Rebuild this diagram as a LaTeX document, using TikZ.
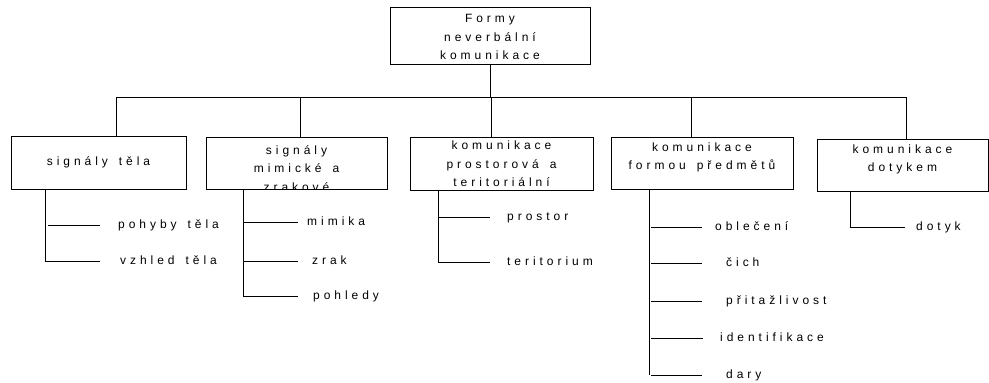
\documentclass[tikz,border=0pt]{standalone}
\usepackage{fontspec}
\setmainfont{Liberation Sans}[LetterSpace=33,WordSpace=1.5]
\newcommand\mg{\hspace{4pt}}
\usetikzlibrary{calc}
\begin{document}
\begin{tikzpicture}[x=1pt,y=-1pt,
  every node/.style={font=\fontsize{12}{18.5}\selectfont},
  box/.style={draw,line width=0.8pt,inner sep=0pt},
  txt/.style={align=center,inner sep=0pt},
  leaf/.style={anchor=west,inner sep=0pt,text height=9pt,text depth=3pt},
  ln/.style={line width=0.8pt}]
\useasboundingbox (0,0) rectangle (989,383);
% top box
\node[box,minimum width=200pt,minimum height=57pt] (top) at (490,35.5) {};
\node[txt] (topt) at (490,37) {Form\mg y\\neverbální\\kom\mg unikace};
% level-1 boxes
\node[box,minimum width=175pt,minimum height=53pt] (b1) at (98.5,162.5) {};
\node[txt] (b1t) at (98.5,162) {signály těla};
\node[box,minimum width=181pt,minimum height=52pt] (b2) at (296.5,163) {};
\begin{scope}
\clip (b2.north west) rectangle (b2.south east);
\node[txt] (b2t) at (296.5,168.5) {signály\\m\mg im\mg ické a\\zrakové};
\end{scope}
\node[box,minimum width=183pt,minimum height=53pt] (b3) at (501.5,163.5) {};
\node[txt] (b3t) at (501.5,164) {kom\mg unikace\\prostorová a\\teritoriální};
\node[box,minimum width=182pt,minimum height=52pt] (b4) at (702,163) {};
\node[txt] (b4t) at (702,157.5) {kom\mg unikace\\form\mg ou předm\mg ětů};
\node[box,minimum width=171pt,minimum height=52pt] (b5) at (902.5,165) {};
\node[txt] (b5t) at (902.5,159.5) {kom\mg unikace\\dotykem};
% bar
\coordinate (barL) at (116,97);
\coordinate (barR) at (907,97);
\draw[ln] (barL) -- (barR);
\draw[ln] (top.south) -- (top.south |- barL);
\coordinate (j1) at (116,97);
\coordinate (j2) at (300,97);
\coordinate (j3) at (491,97);
\coordinate (j4) at (691,97);
\coordinate (j5) at (906,97);
\draw[ln] (j1) -- (j1 |- b1.north);
\draw[ln] (j2) -- (j2 |- b2.north);
\draw[ln] (j3) -- (j3 |- b3.north);
\draw[ln] (j4) -- (j4 |- b4.north);
\draw[ln] (j5) -- (j5 |- b5.north);
% leaves
\node[leaf] (l11) at (118,225) {pohyby těla};
\node[leaf] (l12) at (120,261) {vzhled těla};
\node[leaf] (l21) at (307,222) {m\mg im\mg ika};
\node[leaf] (l22) at (312,261) {zrak};
\node[leaf] (l23) at (313,296) {pohledy};
\node[leaf] (l31) at (507,217) {prostor};
\node[leaf] (l32) at (507,262) {teritorium};
\node[leaf] (l41) at (715,227) {oblečení};
\node[leaf] (l42) at (726,263) {čich};
\node[leaf] (l43) at (726,301) {přitažlivost};
\node[leaf] (l44) at (720,338) {identifikace};
\node[leaf] (l45) at (726,375) {dary};
\node[leaf] (l51) at (916,227) {dotyk};
% branch trunks
\coordinate (v1) at (45,0);
\coordinate (v2) at (243,0);
\coordinate (v3) at (438,0);
\coordinate (v4) at (649,0);
\coordinate (v5) at (850,0);
% box 1
\draw[ln] (v1 |- b1.south) |- ($(l12.west)+(-20,0)$);
\draw[ln] ($(v1 |- l11.west)+(3,0)$) -- ($(l11.west)+(-18,0)$);
% box 2
\draw[ln] (v2 |- b2.south) |- ($(l23.west)+(-15,0)$);
\draw[ln] (v2 |- l21.west) -- ($(l21.west)+(-9,0)$);
\draw[ln] (v2 |- l22.west) -- ($(l22.west)+(-14,0)$);
% box 3
\draw[ln] (v3 |- b3.south) |- ($(l32.west)+(-17,0)$);
\draw[ln] (v3 |- l31.west) -- ($(l31.west)+(-17,0)$);
% box 4
\draw[ln] (v4 |- b4.south) -- (v4 |- l45.west);
\draw[ln] ($(v4 |- l41.west)+(2,0)$) -- ($(l41.west)+(-13,0)$);
\draw[ln] ($(v4 |- l42.west)+(2,0)$) -- ($(l42.west)+(-24,0)$);
\draw[ln] ($(v4 |- l43.west)+(2,0)$) -- ($(l43.west)+(-24,0)$);
\draw[ln] ($(v4 |- l44.west)+(2,0)$) -- ($(l44.west)+(-17,0)$);
\draw[ln] ($(v4 |- l45.west)+(2,0)$) -- ($(l45.west)+(-24,0)$);
% box 5
\draw[ln] (v5 |- b5.south) |- ($(l51.west)+(-11,0)$);
\end{tikzpicture}
\end{document}
